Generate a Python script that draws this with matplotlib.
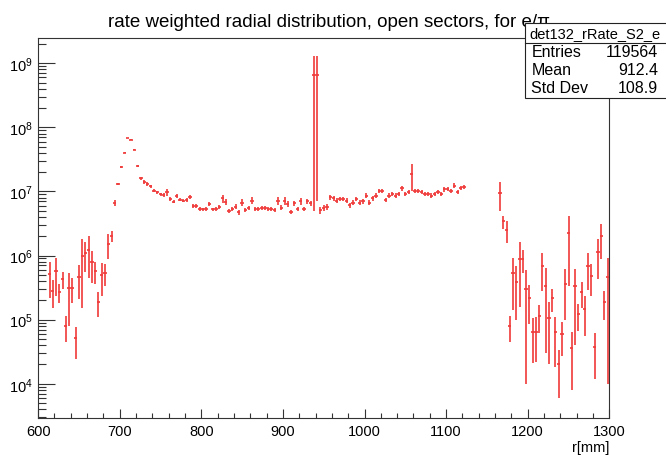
import numpy as np
import matplotlib
matplotlib.use("Agg")
import matplotlib.pyplot as plt
from matplotlib.patches import Rectangle
from matplotlib.ticker import LogLocator, MultipleLocator

plt.rcParams['font.family'] = ['Liberation Sans', 'DejaVu Sans']
plt.rcParams['mathtext.fontset'] = 'custom'
plt.rcParams['mathtext.rm'] = 'Liberation Sans'

# ---- histogram data (4 mm bins, 600-1300 mm) ----
bin_width = 4.0

# bins 612..936 mm
r_seg1 = np.arange(614, 938, 4)
rate_seg1 = [5.1e5, 2.8e5, 5.8e5, 2.7e5, 4.3e5, 8.0e4, 3.1e5, 3.1e5, 5.1e4, 4.6e5,
             9.9e5, 1.08e6, 1.22e6, 7.8e5, 5.7e5, 1.9e5, 5.0e5, 5.3e5, 1.5e6, 2.0e6,
             6.6e6, 1.3e7, 2.4e7, 4.0e7, 6.8e7, 6.4e7, 4.5e7, 2.5e7, 1.6e7, 1.4e7,
             1.3e7, 1.2e7,
             1.03e7, 9.7e6, 9.0e6, 8.8e6, 9.7e6, 7.6e6, 6.9e6, 8.6e6, 7.4e6, 7.2e6,
             7.4e6, 8.1e6, 6.0e6, 6.0e6, 5.4e6, 5.3e6, 5.4e6, 6.4e6, 5.3e6, 5.4e6,
             5.8e6, 7.8e6, 6.9e6, 5.0e6, 5.4e6, 5.8e6, 4.7e6, 6.7e6, 5.1e6, 5.6e6,
             7.2e6, 5.4e6, 5.3e6, 5.6e6, 5.6e6, 5.3e6, 5.4e6, 5.2e6, 7.2e6, 5.6e6,
             7.2e6, 6.4e6, 4.8e6, 6.6e6, 5.4e6, 7.0e6, 5.4e6, 7.0e6, 6.5e6]
err_seg1 = [2.9e5, 1.3e5, 3.5e5, 0.9e5, 1.3e5, 3.5e4, 2.3e5, 1.3e5, 2.7e4, 2.5e5,
            8.4e5, 5.2e5, 7.7e5, 4.1e5, 2.1e5, 0.8e5, 2.7e5, 2.0e5, 6.3e5, 3.7e5,
            7.5e5, 6e5, 6e5, 8e5, 1e6, 1e6, 8e5, 6e5, 8e5, 1.0e6,
            8e5, 8e5,
            6e5, 5e5, 5e5, 5e5, 1.3e6, 5e5, 4e5, 6e5, 4e5, 4e5,
            5e5, 6e5, 4e5, 4e5, 4e5, 3e5, 4e5, 5e5, 3e5, 4e5,
            4e5, 1.1e6, 7e5, 4e5, 4e5, 5e5, 4e5, 8e5, 4e5, 4e5,
            9e5, 4e5, 4e5, 4e5, 4e5, 4e5, 4e5, 4e5, 1.1e6, 5e5,
            1.0e6, 6e5, 4e5, 6e5, 4e5, 8e5, 4e5, 6e5, 5e5]

# the spike around 940 mm
r_spike = [938, 942]
rate_spike = [6.6e8, 6.6e8]
err_spike = [6.55e8, 6.53e8]

# bins 944..1124 mm
r_seg2 = np.arange(946, 1126, 4)
rate_seg2 = [5.1e6, 5.6e6, 5.8e6, 8.1e6, 7.8e6, 7.2e6, 7.6e6, 7.6e6, 7.2e6, 6.1e6,
             6.7e6, 7.6e6, 6.7e6, 7.0e6, 8.6e6, 6.7e6, 7.8e6, 8.6e6, 1.03e7, 1.03e7,
             7.4e6, 8.6e6, 9.1e6, 8.6e6, 9.1e6, 1.12e7, 9.1e6, 9.7e6, 1.85e7, 1.03e7,
             1.03e7, 9.7e6, 9.1e6, 9.1e6, 8.6e6, 9.1e6, 9.7e6, 9.1e6, 1.09e7, 1.09e7,
             1.03e7, 1.23e7, 9.7e6, 1.12e7, 1.16e7]
err_seg2 = [6e5, 6e5, 6e5, 7e5, 6e5, 6e5, 6e5, 6e5, 6e5, 5e5,
            6e5, 6e5, 6e5, 6e5, 7e5, 6e5, 6e5, 7e5, 8e5, 8e5,
            6e5, 7e5, 7e5, 7e5, 7e5, 1.0e6, 7e5, 7e5, 8.5e6, 8e5,
            8e5, 7e5, 7e5, 7e5, 7e5, 7e5, 7e5, 7e5, 1.0e6, 8e5,
            8e5, 1.0e6, 7e5, 8e5, 8e5]

# bins 1164..1300 mm
r_seg3 = np.arange(1166, 1300, 4)
rate_seg3 = [9.4e6, 3.4e6, 2.5e6, 7.9e4, 5.3e5, 3.9e5, 8.8e5, 8.8e5, 3.0e5, 2.15e5,
             6.3e4, 6.5e4, 1.15e5, 6.8e5, 3.4e5, 1.05e5, 2.15e5, 6.3e4, 2.0e4, 6.0e4,
             3.6e5, 2.24e6, 3.6e4, 3.3e5, 1.21e5, 2.66e5, 1.46e5, 6.9e5, 4.85e5, 3.7e4,
             1.12e6, 1.99e6, 1.9e5, 4.7e5]
err_seg3 = [4.4e6, 7.7e5, 9.4e5, 3.4e4, 3.9e5, 2.9e5, 7.2e5, 3.5e5, 2.9e5, 1.3e5,
            4.2e4, 4.3e4, 5.4e4, 4.0e5, 3.1e5, 8.5e4, 8.5e4, 4.5e4, 1.4e4, 3.3e4,
            2.6e5, 1.9e6, 2.8e4, 2.9e5, 5.4e4, 1.15e5, 9e4, 4.0e5, 2.5e5, 2.5e4,
            6.9e5, 1.1e6, 9.3e4, 4.6e5]

r_all = np.concatenate([r_seg1, r_spike, r_seg2, r_seg3])
rate_all = np.concatenate([rate_seg1, rate_spike, rate_seg2, rate_seg3])
err_all = np.concatenate([err_seg1, err_spike, err_seg2, err_seg3])

# stats box content
hist_name = "det132_rRate_S2_e"
stats = [("Entries", "119564"), ("Mean", "912.4"), ("Std Dev", "108.9")]

# ---- figure ----
fig = plt.figure(figsize=(6.66, 4.56), dpi=100)
ax = fig.add_axes([0.0572, 0.0822, 0.8577, 0.8312])

ax.errorbar(r_all, rate_all, yerr=err_all, xerr=bin_width / 2,
            fmt='none', ecolor='#f03a3a', elinewidth=1.2, capsize=0)

ax.set_yscale('log')
ax.set_xlim(600, 1300)
ax.set_ylim(2.97e3, 2.43e9)

ax.xaxis.set_major_locator(MultipleLocator(100))
ax.xaxis.set_minor_locator(MultipleLocator(20))
ax.yaxis.set_major_locator(LogLocator(base=10))
ax.yaxis.set_minor_locator(LogLocator(base=10, subs=np.arange(2, 10)))

ax.tick_params(axis='both', which='both', direction='in', top=False, right=False,
               labelsize=10.5, color='#333333', width=0.8)
ax.tick_params(axis='x', which='major', length=6.5, pad=5)
ax.tick_params(axis='x', which='minor', length=3.5)
ax.tick_params(axis='y', which='major', length=12, pad=4)
ax.tick_params(axis='y', which='minor', length=6)

for sp in ax.spines.values():
    sp.set_linewidth(0.8)
    sp.set_color('#333333')

ax.set_xlabel("r[mm]", fontsize=10.5, loc='right', labelpad=1)

fig.text(0.494, 0.941, "rate weighted radial distribution, open sectors, for e/\u03c0",
         ha='center', va='baseline', fontsize=13.5)

# stats box
box = Rectangle((0.7883, 0.782), 0.22, 0.165, transform=fig.transFigure,
                facecolor='white', edgecolor='#222222', lw=0.8, zorder=5)
fig.add_artist(box)
fig.add_artist(plt.Line2D([0.7883, 1.0], [0.9035, 0.9035], transform=fig.transFigure,
                          color='#222222', lw=0.8, zorder=6))
fig.text(0.893, 0.9245, hist_name, ha='center', va='center', fontsize=10.5, zorder=7)
for (lab, val), yy in zip(stats, [0.8853, 0.845, 0.8064]):
    fig.text(0.798, yy, lab, ha='left', va='center', fontsize=11.5, zorder=7)
    fig.text(0.988, yy, val, ha='right', va='center', fontsize=11.5, zorder=7)

fig.savefig("out.png", dpi=100)
